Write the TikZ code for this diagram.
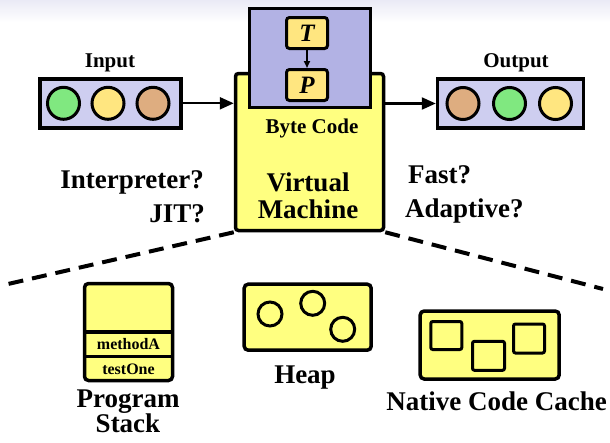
\documentclass[tikz,border=0pt]{standalone}
\usepackage{fontspec}
\setmainfont{Liberation Serif}
\usetikzlibrary{arrows.meta}

\definecolor{headshade}{RGB}{234,234,246}
\definecolor{bytepurple}{RGB}{178,178,228}
\definecolor{iopurple}{RGB}{206,206,240}
\definecolor{vmyellow}{RGB}{255,255,128}
\definecolor{tokengold}{RGB}{255,230,128}
\definecolor{tokengreen}{RGB}{128,232,128}
\definecolor{tokenbrown}{RGB}{222,173,128}

\tikzset{
  heavy/.style={line width=3.5pt},
  iobox/.style={draw, heavy, fill=iopurple, inner sep=0pt, minimum width=141pt, minimum height=49pt},
  token/.style={circle, draw, line width=3pt, inner sep=0pt, minimum size=32pt},
  membox/.style={draw, heavy, fill=vmyellow, rounded corners=4pt, inner sep=0pt},
  opbox/.style={draw, line width=3pt, fill=tokengold, rounded corners=3pt, inner sep=0pt,
    minimum width=41pt, minimum height=31pt, font=\fontsize{25}{25}\selectfont\bfseries\itshape},
  blob/.style={circle, draw, line width=3pt, inner sep=0pt, minimum size=24pt},
  chunk/.style={draw, line width=3pt, rounded corners=2pt, inner sep=0pt},
  flow/.style={line width=2.3pt, -{Triangle[length=14pt,width=12pt]}},
  bigtext/.style={font=\fontsize{27}{24}\selectfont\bfseries, inner sep=0pt},
  smalltext/.style={font=\fontsize{21}{21}\selectfont\bfseries, inner sep=0pt},
  frametext/.style={font=\fontsize{16}{16}\selectfont\bfseries, inner sep=0pt},
}

\begin{document}
\begin{tikzpicture}[x=1pt,y=-1pt]
  \useasboundingbox (0,0) rectangle (610,442);
  % slide header shading
  \shade[top color=headshade, bottom color=white] (0,0) rectangle (610,22);

  % Input and Output queues
  \node[smalltext, anchor=base] (inlabel) at (110,67) {Input};
  \node[iobox] (input) at (110.5,103.3) {};
  \node[token, fill=tokengreen] (in1) at (63.5,103.3) {};
  \node[token, fill=tokengold] (in2) at (108,103.3) {};
  \node[token, fill=tokenbrown] (in3) at (153,103.3) {};

  \node[smalltext, anchor=base] (outlabel) at (516,67) {Output};
  \node[iobox, minimum width=146pt] (output) at (510.5,103.5) {};
  \node[token, fill=tokenbrown] (out1) at (463,103.5) {};
  \node[token, fill=tokengreen] (out2) at (509.5,103.5) {};
  \node[token, fill=tokengold] (out3) at (555.5,103.5) {};

  % Virtual machine with the byte code on top
  \node[membox, rounded corners=3pt, minimum width=148pt, minimum height=157pt] (vm) at (309.5,152) {};
  \node[draw, heavy, fill=bytepurple, minimum width=121pt, minimum height=99pt] (bytecode) at (310,58) {};
  \node[opbox] (opT) at (307,33) {T};
  \node[opbox] (opP) at (307,85) {P};
  \draw[line width=1.6pt, -{Triangle[length=7pt,width=6pt]}] (opT) -- (opP);
  \node[smalltext, anchor=base] (bclabel) at (312,133) {Byte Code};
  \node[bigtext, align=center, anchor=north, font=\fontsize{27}{27}\selectfont\bfseries] (vmlabel) at (308,173) {Virtual\\Machine};

  \draw[flow] (input.east) -- (input.east -| vm.west);
  \draw[flow] (vm.east |- output.west) -- (output.west);

  % the open questions
  \node[bigtext, anchor=base east] (qinterp) at (204,188) {Interpreter?};
  \node[bigtext, anchor=base east] (qjit) at (205,222) {JIT?};
  \node[bigtext, anchor=base west] (qfast) at (408,183) {Fast?};
  \node[bigtext, anchor=base west] (qadapt) at (405,217) {Adaptive?};

  % zoom lines
  \coordinate (zoomL) at (8,284);
  \coordinate (zoomR) at (603,289);
  \draw[line width=4pt, dash pattern=on 15pt off 9pt] (vm.south west) -- (zoomL);
  \draw[line width=4pt, dash pattern=on 15pt off 9pt] (vm.south east) -- (zoomR);

  % Program stack
  \node[membox, minimum width=88pt, minimum height=97pt] (stack) at (128.5,332) {};
  \node[frametext, minimum width=88pt, minimum height=24.4pt] (methodA) at (128.5,344.5) {methodA};
  \node[frametext, minimum width=88pt, minimum height=24.4pt] (testOne) at (128.5,368.9) {testOne};
  \draw[heavy] (methodA.north west) -- (methodA.north east);
  \draw[heavy] (testOne.north west) -- (testOne.north east);
  \node[bigtext, align=center, anchor=north, font=\fontsize{27}{25}\selectfont\bfseries] (stacklabel) at (128,390) {Program\\Stack};

  % Heap
  \node[membox, minimum width=127pt, minimum height=66pt] (heap) at (307.7,317.2) {};
  \node[blob] (obj1) at (270,314) {};
  \node[blob] (obj2) at (312.7,303.3) {};
  \node[blob] (obj3) at (342.7,329.3) {};
  \node[bigtext, anchor=base] (heaplabel) at (305,383) {Heap};

  % Native code cache
  \node[membox, minimum width=139pt, minimum height=68pt] (cache) at (489.7,345) {};
  \node[chunk, minimum width=31pt, minimum height=28pt] (code1) at (446.3,335.5) {};
  \node[chunk, minimum width=32pt, minimum height=29pt] (code2) at (488.5,355.8) {};
  \node[chunk, minimum width=31pt, minimum height=29pt] (code3) at (529,338.5) {};
  \node[bigtext, anchor=base] (cachelabel) at (496.7,410) {Native Code Cache};
\end{tikzpicture}
\end{document}
